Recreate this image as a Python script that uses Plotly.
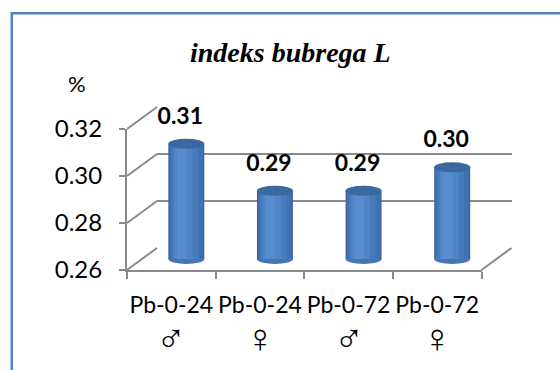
import plotly.graph_objects as go

# ---------------- data ----------------
groups = ["Pb-0-24", "Pb-0-24", "Pb-0-72", "Pb-0-72"]
sexes = ["♂", "♀", "♂", "♀"]
values = [0.309, 0.289, 0.289, 0.299]
y_ticks = [0.26, 0.28, 0.30, 0.32]
title_text = "indeks bubrega L"
unit_text = "%"

categories = [f"{g} {s}" for g, s in zip(groups, sexes)]   # unique category keys

# ---------------- geometry (pixels) ----------------
W, H = 560, 370
Y_MIN, Y_MAX = 0.26, 0.32
FRONT = dict(x0=127, x1=481.5, ylo=270, yhi=129)   # front plane
DX, DY = 30, -22                                     # depth offset
BACK = dict(x0=FRONT["x0"] + DX, x1=FRONT["x1"] + DX, ylo=FRONT["ylo"] + DY, yhi=FRONT["yhi"] + DY)
MID = dict(x0=FRONT["x0"] + DX / 2, x1=FRONT["x1"] + DX / 2, ylo=FRONT["ylo"] + DY / 2, yhi=FRONT["yhi"] + DY / 2)
PAD = 0.01
px_per_unit = (MID["ylo"] - MID["yhi"]) / (Y_MAX - Y_MIN)

def xp(px):
    return px / W

def yp(py):
    return 1 - py / H

def plane_y(plane, v):
    py = plane["ylo"] - (v - Y_MIN) / (Y_MAX - Y_MIN) * (plane["ylo"] - plane["yhi"])
    return yp(py)

GRID = "#8A8A8A"
FONT = "Lato, 'Open Sans', sans-serif"
n = len(values)
idx = list(range(n))

fig = go.Figure()

fig.add_trace(go.Scatter(x=[0.5], y=[0.29], mode="markers", marker=dict(opacity=0),
                         hoverinfo="skip", xaxis="x", yaxis="y", showlegend=False))
fig.add_trace(go.Scatter(x=categories, y=values, mode="markers", marker=dict(opacity=0),
                         hoverinfo="skip", xaxis="x2", yaxis="y2", showlegend=False))

bar_w = 0.406
bands = [
    (0.0, bar_w, "#3A67A3"),
    (0.0, 0.37, "#4171B0"),
    (-0.015, 0.30, "#4879BA"),
    (-0.035, 0.21, "#5084C6"),
    (-0.05, 0.11, "#578CCE"),
]
for shift, w, col in bands:
    fig.add_trace(go.Bar(
        x=idx, y=[v - Y_MIN for v in values], base=[Y_MIN] * n,
        width=[w] * n, offset=[shift - w / 2] * n,
        marker=dict(color=col, line=dict(width=0)),
        xaxis="x3", yaxis="y3", showlegend=False, hoverinfo="skip"))

lab_dy = 26 / px_per_unit
fig.add_trace(go.Scatter(
    x=[i - 0.068 for i in idx], y=[v + lab_dy for v in values],
    text=[f"{v:.2f}" for v in values], mode="text",
    textfont=dict(family=FONT, size=23, color="black", weight="bold"),
    xaxis="x3", yaxis="y3", showlegend=False, cliponaxis=False, hoverinfo="skip"))

shapes = []
eh = 5.0 / px_per_unit
for i, v in zip(idx, values):
    shapes.append(dict(type="circle", xref="x3", yref="y3", layer="below",
                       x0=i - bar_w / 2, x1=i + bar_w / 2, y0=Y_MIN - eh, y1=Y_MIN + eh,
                       fillcolor="#4576B4", line=dict(width=0)))
    shapes.append(dict(type="circle", xref="x3", yref="y3", layer="above",
                       x0=i - bar_w / 2, x1=i + bar_w / 2, y0=v - eh, y1=v + eh,
                       fillcolor="#3C68A0", line=dict(width=0)))

for t in y_ticks:
    shapes.append(dict(type="line", xref="paper", yref="paper", layer="below",
                       x0=xp(FRONT["x0"]), y0=plane_y(FRONT, t),
                       x1=xp(BACK["x0"]), y1=plane_y(BACK, t),
                       line=dict(color=GRID, width=2)))
shapes.append(dict(type="line", xref="paper", yref="paper", layer="below",
                   x0=xp(FRONT["x1"]), y0=plane_y(FRONT, Y_MIN),
                   x1=xp(BACK["x1"]), y1=plane_y(BACK, Y_MIN),
                   line=dict(color=GRID, width=2)))
shapes.append(dict(type="rect", xref="paper", yref="paper", layer="above",
                   x0=xp(11.8), y0=-0.1, x1=1.1, y1=yp(13.3),
                   line=dict(color="#4F81BD", width=2.5), fillcolor="rgba(0,0,0,0)"))

annotations = [
    dict(text=f"<b><i>{title_text}</i></b>", x=xp(290), y=yp(52), xref="paper", yref="paper",
         showarrow=False, xanchor="center", yanchor="middle",
         font=dict(family="Liberation Serif, serif", size=28, color="black")),
    dict(text=unit_text, x=xp(77), y=yp(83), xref="paper", yref="paper",
         showarrow=False, xanchor="center", yanchor="middle",
         font=dict(family=FONT, size=22, color="black")),
]
# second line of category labels (sex symbols)
for c, s in zip(categories, sexes):
    annotations.append(dict(text=s, x=c, xref="x2", y=yp(338), yref="paper",
                            showarrow=False, xanchor="center", yanchor="middle",
                            height=26, valign="middle",
                            font=dict(family="DejaVu Sans, sans-serif", size=40, color="black",
                                      weight=200)))

fig.update_layout(
    width=W, height=H, margin=dict(l=0, r=0, t=0, b=0, pad=0),
    paper_bgcolor="white", plot_bgcolor="rgba(0,0,0,0)",
    barmode="overlay", showlegend=False,
    shapes=shapes, annotations=annotations,
    xaxis=dict(domain=[xp(BACK["x0"]), xp(BACK["x1"])], range=[0, 1], anchor="y",
               showgrid=False, zeroline=False, showline=False, showticklabels=False, ticks=""),
    yaxis=dict(domain=[yp(BACK["ylo"]), yp(BACK["yhi"])], range=[Y_MIN, Y_MAX], anchor="x",
               tickvals=y_ticks, showgrid=True, gridcolor=GRID, gridwidth=2,
               zeroline=False, showline=False, showticklabels=False, ticks=""),
    xaxis2=dict(domain=[xp(FRONT["x0"]), xp(FRONT["x1"])], type="category",
                categoryorder="array", categoryarray=categories, range=[-0.5, n - 0.5],
                tickvals=categories, ticktext=groups,
                anchor="y2", tickson="boundaries", ticks="outside", ticklen=7, tickwidth=2,
                tickcolor=GRID, showline=True, linecolor=GRID, linewidth=2,
                showgrid=False, zeroline=False, tickangle=0, automargin=False,
                ticklabelstandoff=13,
                tickfont=dict(family=FONT, size=23, color="black")),
    yaxis2=dict(domain=[yp(FRONT["ylo"]), yp(FRONT["yhi"])], range=[Y_MIN, Y_MAX], anchor="x2",
                tickvals=y_ticks, tickformat=".2f", ticks="outside", ticklen=6, tickwidth=2,
                tickcolor=GRID, showline=True, linecolor=GRID, linewidth=2,
                showgrid=False, zeroline=False, ticklabelstandoff=12, automargin=False,
                tickfont=dict(family=FONT, size=24, color="black")),
    xaxis3=dict(domain=[xp(MID["x0"]), xp(MID["x1"])], range=[-0.5, n - 0.5], anchor="y3",
                visible=False),
    yaxis3=dict(domain=[yp(MID["ylo"] + PAD * px_per_unit), yp(MID["yhi"] - PAD * px_per_unit)],
                range=[Y_MIN - PAD, Y_MAX + PAD], anchor="x3", visible=False),
)

fig.write_html("out.html")
